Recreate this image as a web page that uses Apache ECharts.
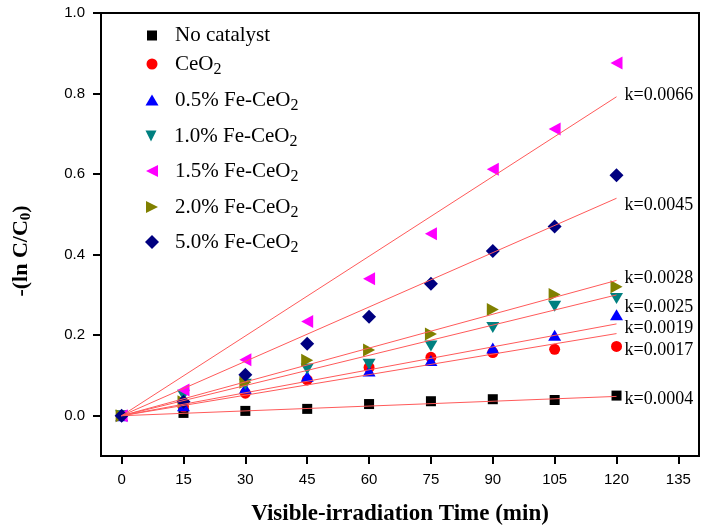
<!DOCTYPE html>
<html>
<head>
<meta charset="utf-8">
<script src="https://cdn.jsdelivr.net/npm/echarts@6/dist/echarts.min.js"></script>
<style>
  html, body { margin: 0; padding: 0; background: #fff; }
  #chart { width: 708px; height: 532px; }
</style>
</head>
<body>
<div id="chart"></div>
<script>
// data
const times = [0, 15, 30, 45, 60, 75, 90, 105, 120]
const seriesNames = ['No catalyst', 'CeO2', '0.5% Fe-CeO2', '1.0% Fe-CeO2', '1.5% Fe-CeO2', '2.0% Fe-CeO2', '5.0% Fe-CeO2']
const noCatalyst = [0, 0.007, 0.012, 0.017, 0.029, 0.036, 0.041, 0.039, 0.050]
const ceo2 = [0, 0.022, 0.056, 0.089, 0.120, 0.145, 0.157, 0.165, 0.172]
const fe05 = [0, 0.025, 0.068, 0.098, 0.111, 0.137, 0.168, 0.200, 0.251]
const fe10 = [0, 0.051, 0.078, 0.116, 0.128, 0.173, 0.219, 0.272, 0.291]
const fe15 = [0, 0.064, 0.139, 0.234, 0.340, 0.452, 0.612, 0.712, 0.876]
const fe20 = [0, 0.035, 0.083, 0.138, 0.163, 0.203, 0.264, 0.301, 0.320]
const fe50 = [0, 0.035, 0.102, 0.179, 0.246, 0.328, 0.409, 0.470, 0.597]
// fitted lines (through origin), value at 120 min
const rateLabels = ['k=0.0004', 'k=0.0017', 'k=0.0019', 'k=0.0025', 'k=0.0066', 'k=0.0028', 'k=0.0045']
const fitEnd = [0.048, 0.204, 0.228, 0.300, 0.792, 0.336, 0.540]
const xTicks = [0, 15, 30, 45, 60, 75, 90, 105, 120, 135]
const yTicks = [0, 0.2, 0.4, 0.6, 0.8, 1.0]

const serif = '"Times New Roman", "Liberation Serif", serif'
const sans = 'Arial, "Liberation Sans", sans-serif'

const allValues = [noCatalyst, ceo2, fe05, fe10, fe15, fe20, fe50]
const colors = ['#000000', '#ff0000', '#0000ff', '#008080', '#ff00ff', '#808000', '#000080']
const symbols = [
  'rect',
  'circle',
  'triangle',
  'path://M-1,-1L1,-1L0,1Z',
  'path://M1,-1L1,1L-1,0Z',
  'path://M-1,-1L-1,1L1,0Z',
  'path://M0,-1L1,0L0,1L-1,0Z'
]
const symbolSizes = [[10, 10], [11, 11], [13, 11], [13, 11], [12, 13], [12, 13], [14, 14]]
const legendCenters = [32, 59, 95, 131, 166, 202, 237]
const labelShift = [3, 17, 4, 12, -2, -2, 7]

const chart = echarts.init(document.getElementById('chart'))

function legendText (name) {
  if (name.endsWith('O2')) {
    return '{a|' + name.slice(0, -1) + '}{s|2}'
  }
  return '{a|' + name + '}'
}

const legends = seriesNames.map((name, i) => {
  const w = symbolSizes[i][0]
  const hasSub = name.endsWith('O2')
  return {
    data: [name],
    orient: 'vertical',
    left: 147 - w / 2,
    top: legendCenters[i] - (hasSub ? 14 : 12),
    itemWidth: w,
    itemHeight: symbolSizes[i][1],
    selectedMode: false,
    formatter: legendText,
    textStyle: {
      color: '#000',
      rich: {
        a: { fontFamily: serif, fontSize: 21, lineHeight: 24, color: '#000', padding: [0, 0, 0, 23 - w / 2 - 5] },
        s: { fontFamily: serif, fontSize: 16, lineHeight: 16, color: '#000', padding: [12, 0, 0, 0] }
      }
    }
  }
})

const scatterSeries = seriesNames.map((name, i) => ({
  name: name,
  type: 'scatter',
  symbol: symbols[i],
  symbolSize: symbolSizes[i],
  itemStyle: { color: colors[i], opacity: 1 },
  data: times.map((t, j) => [t, allValues[i][j]]),
  z: 2
}))

const fitSeries = rateLabels.map((lab, i) => ({
  type: 'line',
  symbol: 'none',
  silent: true,
  z: 3,
  lineStyle: { color: '#ff5a5a', width: 1 },
  data: [[0, 0], [120, fitEnd[i]]],
  endLabel: {
    show: true,
    formatter: lab,
    distance: 8,
    offset: [0, labelShift[i]],
    color: '#000',
    fontFamily: serif,
    fontSize: 18
  }
}))

const option = {
  backgroundColor: '#fff',
  animation: false,
  grid: {
    left: 101,
    right: 9,
    top: 13,
    bottom: 76,
    show: true,
    borderColor: '#000',
    borderWidth: 2
  },
  legend: legends,
  xAxis: {
    type: 'value',
    min: -5,
    max: 140,
    name: 'Visible-irradiation Time (min)',
    nameLocation: 'middle',
    nameGap: 47,
    nameTextStyle: { fontFamily: serif, fontWeight: 'bold', fontSize: 23, color: '#000' },
    axisLine: { onZero: false, lineStyle: { color: '#000', width: 2 } },
    axisTick: { customValues: xTicks, length: 8, lineStyle: { color: '#000', width: 2 } },
    axisLabel: { customValues: xTicks, margin: 16, fontFamily: sans, fontSize: 15, color: '#000' },
    splitLine: { show: false }
  },
  yAxis: {
    type: 'value',
    min: -0.1,
    max: 1.0,
    axisLine: { onZero: false, lineStyle: { color: '#000', width: 2 } },
    axisTick: { customValues: yTicks, length: 8, lineStyle: { color: '#000', width: 2 } },
    axisLabel: {
      customValues: yTicks,
      margin: 16,
      fontFamily: sans,
      fontSize: 15,
      color: '#000',
      formatter: v => v.toFixed(1)
    },
    splitLine: { show: false }
  },
  graphic: [{
    type: 'text',
    x: 21,
    y: 251,
    rotation: Math.PI / 2,
    style: {
      text: '{b|-(ln C/C}{s|0}{b|)}',
      align: 'center',
      verticalAlign: 'middle',
      fill: '#000',
      rich: {
        b: { fontFamily: serif, fontWeight: 'bold', fontSize: 22, lineHeight: 24, fill: '#000' },
        s: { fontFamily: serif, fontWeight: 'bold', fontSize: 15, lineHeight: 15, fill: '#000', padding: [10, 0, 0, 0] }
      }
    }
  }],
  series: scatterSeries.concat(fitSeries)
}

chart.setOption(option)
</script>
</body>
</html>
